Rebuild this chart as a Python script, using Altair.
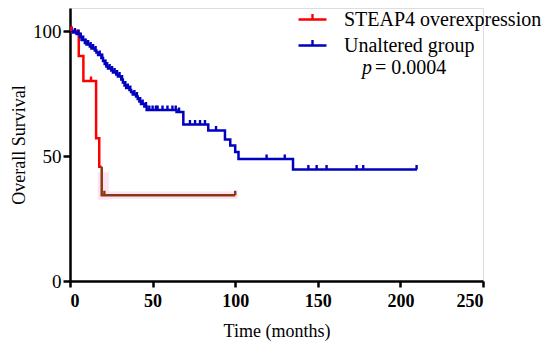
import altair as alt
import pandas as pd

# --- data ---
red_t = [0, 5.3, 8.1, 15.8, 17.7, 19.2]
red_v = [100, 90, 80, 57.1, 45.7, 45.7]
brown_t = [19.2, 19.2, 100]
brown_v = [45.7, 34.3, 34.3]
red_cens_t = [0.8, 12.7]
red_cens_v = [100, 80]
brown_cens_t = [20.8, 100]
brown_cens_v = [34.3, 34.3]

blue_t = [0, 2, 4, 6, 7, 9, 10, 12, 13, 15, 16, 17, 19, 20, 21, 22, 23, 25, 26, 28,
          29, 31, 32, 33, 34, 36, 37, 38, 40, 41, 42, 43, 45, 46.4, 64.5, 68.6, 83.7,
          93.8, 97, 100, 102, 135, 210]
blue_v = [100, 99.4, 98.8, 97.6, 96.4, 95.2, 94.6, 93.8, 93.0, 92.2, 91.4, 90.4, 89.2,
          88.0, 86.8, 85.8, 85.0, 84.2, 83.4, 82.6, 81.8, 80.6, 79.4, 78.2, 77.2, 76.4,
          75.6, 74.6, 73.8, 72.8, 71.8, 70.8, 69.8, 68.4, 67.6, 62.6, 60.2, 56.6, 54.2,
          51.6, 48.8, 44.6, 44.6]
blue_cens_t = [1, 3, 5, 6.5, 8, 9.5, 11, 12.5, 14, 15.5, 18, 19.5, 21.5, 22.5, 24, 25.5,
               27, 28.5, 30, 31.5, 33.5, 35, 36.5, 39, 40.5, 42.5, 44, 46, 48, 50, 52,
               53, 56, 59, 62, 64, 66, 72.6, 75.7, 78.7, 81.7, 88.4, 119, 130, 144.3,
               149.3, 155.3, 173.5, 177.5, 209.8]

groups = ["STEAP4 overexpression", "Unaltered group"]
colors = ["#ff0000", "#0000c0"]


def level(t, ts, vs):
    v = vs[0]
    for a, b in zip(ts, vs):
        if a <= t:
            v = b
    return v


blue_cens_v = [level(t, blue_t, blue_v) for t in blue_cens_t]

lines = pd.concat([
    pd.DataFrame({"t": red_t, "v": red_v, "g": groups[0], "o": range(len(red_t))}),
    pd.DataFrame({"t": blue_t, "v": blue_v, "g": groups[1], "o": range(len(blue_t))}),
])
brown = pd.DataFrame({"t": brown_t, "v": brown_v, "o": range(len(brown_t))})
cens = pd.concat([
    pd.DataFrame({"t": blue_cens_t, "v": blue_cens_v, "c": "#0000c0"}),
    pd.DataFrame({"t": red_cens_t, "v": red_cens_v, "c": "#ff0000"}),
    pd.DataFrame({"t": brown_cens_t, "v": brown_cens_v, "c": "#8b3a0f"}),
])
cens["v2"] = cens["v"] + 1.8

shade = pd.DataFrame({"t": [16.8, 17.5], "t2": [23.5, 101.5], "v": [32.5, 32.8], "v2": [43.5, 35.8]})

FONT = "Liberation Serif"
xsc = alt.Scale(domain=[0, 250], nice=False)
ysc = alt.Scale(domain=[0, 109.2], nice=False)

xax = alt.Axis(values=[0, 50, 100, 150, 200, 250], title="Time (months)", grid=False,
               domainColor="black", domainWidth=2.5, tickColor="black", tickWidth=2.5,
               tickSize=6, labelFont=FONT, labelFontSize=18, labelFontWeight="bold",
               labelColor="black", labelPadding=5, titleFont=FONT, titleFontSize=18,
               titleFontWeight=400, titleColor="black", titlePadding=12)
yax = alt.Axis(values=[0, 50, 100], title="Overall Survival", grid=False,
               domainColor="black", domainWidth=2.5, tickColor="black", tickWidth=2.5,
               tickSize=7, labelFont=FONT, labelFontSize=19, labelColor="black",
               labelPadding=2, titleFont=FONT, titleFontSize=18, titleFontWeight=400,
               titleColor="black", titlePadding=4)

shade_layer = alt.Chart(shade).mark_rect(color="#fde4f4").encode(
    x=alt.X("t:Q", scale=xsc, axis=xax), x2="t2:Q",
    y=alt.Y("v:Q", scale=ysc, axis=yax), y2="v2:Q")

line_layer = alt.Chart(lines).mark_line(interpolate="step-after", strokeWidth=2.5).encode(
    x=alt.X("t:Q", scale=xsc),
    y=alt.Y("v:Q", scale=ysc),
    order="o:Q",
    color=alt.Color("g:N", sort=groups,
                    scale=alt.Scale(domain=groups, range=colors),
                    legend=alt.Legend(title=None, orient="none", legendX=227, legendY=-4,
                                      symbolType="M-1,0L1,0M0,0L0,-0.4", symbolSize=784,
                                      symbolStrokeWidth=2.4, labelFont=FONT,
                                      labelFontSize=20, labelColor="black", labelOffset=16,
                                      labelLimit=0, rowPadding=-1, padding=0)),
)

brown_layer = alt.Chart(brown).mark_line(interpolate="step-after", strokeWidth=2.5,
                                         color="#8b3a0f").encode(
    x=alt.X("t:Q", scale=xsc), y=alt.Y("v:Q", scale=ysc), order="o:Q")

cens_layer = alt.Chart(cens).mark_rule(strokeWidth=2.4).encode(
    x=alt.X("t:Q", scale=xsc), y=alt.Y("v:Q", scale=ysc), y2="v2:Q",
    color=alt.Color("c:N", scale=None, legend=None))

p_txt = alt.Chart(pd.DataFrame({"a": [0]})).mark_text(
    text="p", font=FONT, fontSize=20, fontStyle="italic", align="left",
    baseline="middle", color="black").encode(x=alt.value(292), y=alt.value(60))
val_txt = alt.Chart(pd.DataFrame({"a": [0]})).mark_text(
    text="= 0.0004", font=FONT, fontSize=20, align="left", baseline="middle",
    color="black").encode(x=alt.value(305), y=alt.value(60))

chart = alt.layer(shade_layer, line_layer, brown_layer, cens_layer, p_txt, val_txt).resolve_scale(
    color="independent"
).properties(
    width=413, height=273,
    autosize=alt.AutoSizeParams(type="none"),
    padding={"left": 62, "top": 0, "right": 59, "bottom": 63},
).configure_view(stroke=None).configure(background="white")

chart.save("out.html", embed_options={"renderer": "svg", "actions": False})
